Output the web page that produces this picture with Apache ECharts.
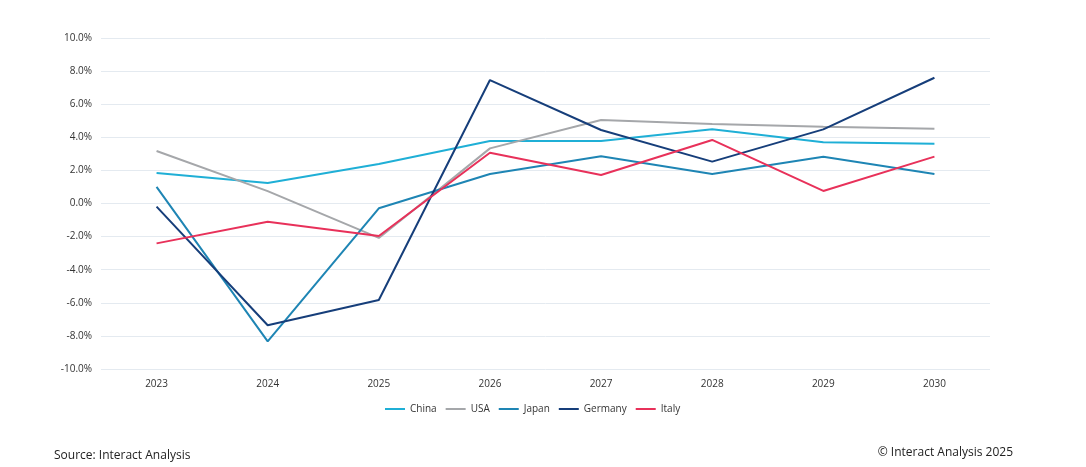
<!DOCTYPE html>
<html>
<head>
<meta charset="utf-8">
<script src="https://cdn.jsdelivr.net/npm/echarts@6/dist/echarts.min.js"></script>
<style>
html,body{margin:0;padding:0;background:#fff;}
#c{width:1086px;height:467px;}
</style>
</head>
<body>
<div id="c"></div>
<script>
const categories = ['2023','2024','2025','2026','2027','2028','2029','2030'];
const china   = [1.84, 1.24, 2.39, 3.78, 3.78, 4.48, 3.70, 3.61];
const usa     = [3.17, 0.75, -2.08, 3.33, 5.05, 4.80, 4.64, 4.52];
const japan   = [1.00, -8.33, -0.29, 1.78, 2.85, 1.78, 2.83, 1.78];
const germany = [-0.19, -7.36, -5.83, 7.46, 4.44, 2.53, 4.48, 7.60];
const italy   = [-2.41, -1.10, -1.96, 3.07, 1.72, 3.84, 0.76, 2.83];
const seriesNames = ['China','USA','Japan','Germany','Italy'];
const colors = ['#1fafd6','#a5a7aa','#1e85b4','#163e7a','#e8315a'];
const seriesData = [china, usa, japan, germany, italy];
const font = 'Open Sans, Noto Sans, sans-serif';

const chart = echarts.init(document.getElementById('c'));
chart.setOption({
  animation: false,
  backgroundColor: '#ffffff',
  color: colors,
  grid: {left: 101, right: 96, top: 38, bottom: 98},
  legend: {
    top: 399, left: 380,
    itemWidth: 20, itemHeight: 2, itemGap: 9,
    icon: 'rect',
    textStyle: {fontFamily: font, fontSize: 10, color: '#333'},
    data: seriesNames
  },
  xAxis: {
    type: 'category', data: categories, boundaryGap: true,
    axisLine: {show: false}, axisTick: {show: false},
    axisLabel: {fontFamily: font, fontSize: 10, color: '#333', margin: 10}
  },
  yAxis: {
    type: 'value', min: -10, max: 10, interval: 2,
    axisLine: {show: false}, axisTick: {show: false},
    axisLabel: {fontFamily: font, fontSize: 10, color: '#333', margin: 9,
      formatter: v => v.toFixed(1) + '%'},
    splitLine: {lineStyle: {color: '#e4eaf0', width: 1}}
  },
  series: seriesNames.map((n, i) => ({
    name: n, type: 'line', data: seriesData[i],
    symbol: 'none', lineStyle: {width: 2, color: colors[i]},
    itemStyle: {color: colors[i]}
  })),
  graphic: [
    {type: 'text', left: 54, top: 450, style: {text: 'Source: Interact Analysis', font: '12px ' + font, fill: '#222'}},
    {type: 'text', right: 73, top: 447, style: {text: '© Interact Analysis 2025', font: '12px ' + font, fill: '#222'}}
  ]
});
</script>
</body>
</html>
